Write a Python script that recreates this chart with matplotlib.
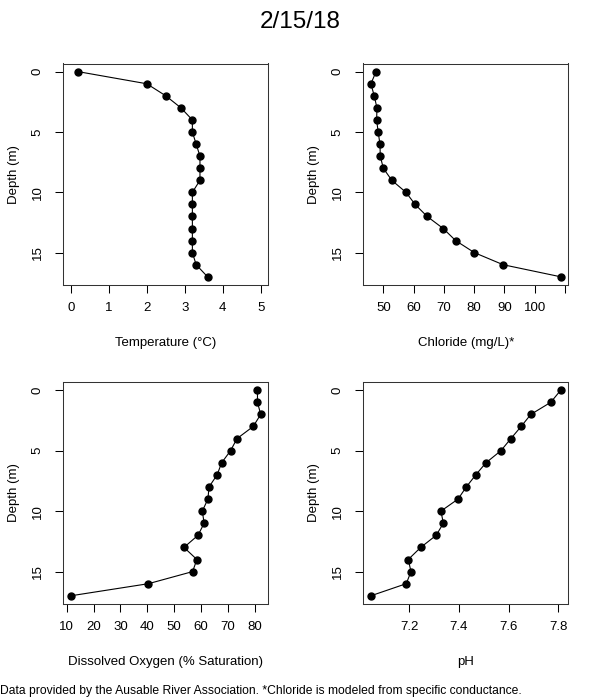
import numpy as np
import matplotlib
matplotlib.use('Agg')
from matplotlib import pyplot as plt

plt.rcParams['font.family'] = ['Liberation Sans', 'DejaVu Sans']

depth = [0, 1, 2, 3, 4, 5, 6, 7, 8, 9, 10, 11, 12, 13, 14, 15, 16, 17]
temp = [0.2, 2.0, 2.5, 2.9, 3.2, 3.2, 3.3, 3.4, 3.4, 3.4, 3.2, 3.2, 3.2, 3.2, 3.2, 3.2, 3.3, 3.6]
chloride = [47.6, 45.9, 47.0, 47.9, 47.8, 48.3, 48.9, 49.0, 50.0, 52.8, 57.5, 60.5,
            64.5, 69.8, 73.9, 80.1, 89.6, 108.6]
do_sat = [80.9, 80.9, 82.1, 79.3, 73.3, 70.9, 67.6, 65.9, 62.9, 62.5, 60.4, 61.1,
          58.8, 53.6, 58.4, 56.8, 40.4, 11.6]
ph = [7.809, 7.769, 7.689, 7.650, 7.609, 7.569, 7.509, 7.468, 7.430, 7.397, 7.328,
      7.338, 7.309, 7.247, 7.197, 7.208, 7.189, 7.047]

temp_ticks = [0, 1, 2, 3, 4, 5]
cl_ticks = [50, 60, 70, 80, 90, 100, 110]
cl_labels = ['50', '60', '70', '80', '90', '100', '']
do_ticks = [10, 20, 30, 40, 50, 60, 70, 80]
ph_ticks = [7.2, 7.4, 7.6, 7.8]
depth_ticks = [0, 5, 10, 15]

fig = plt.figure(figsize=(6, 7), dpi=100)

W, H = 600., 700.
boxes = [(63.3, 63.5, 205, 221.5), (363.3, 63.5, 205, 221.5),
         (63.3, 382, 205, 222), (363.3, 382, 205, 222)]


def r_lim(vals):
    lo, hi = min(vals), max(vals)
    d = (hi - lo) * 0.04
    return lo - d, hi + d


panels = [
    (temp, 'Temperature (°C)', temp_ticks, None, (-0.2, 5.2)),
    (chloride, 'Chloride (mg/L)*', cl_ticks, cl_labels, r_lim(chloride)),
    (do_sat, 'Dissolved Oxygen (% Saturation)', do_ticks, None, r_lim(do_sat)),
    (ph, 'pH', ph_ticks, None, r_lim(ph)),
]

for (x, y, w, h), (vals, xlab, xt, xtl, xl) in zip(boxes, panels):
    ax = fig.add_axes([x / W, 1 - (y + h) / H, w / W, h / H])
    ax.plot(vals, depth, '-o', color='black', lw=0.8, ms=5)
    ax.set_xlim(xl)
    ax.set_ylim(17.68, -0.68)
    ax.set_xticks(xt)
    if xtl is not None:
        ax.set_xticklabels(xtl)
    else:
        ax.set_xticklabels([('%g' % t) if t != int(t) else str(int(t)) for t in xt])
    ax.set_yticks(depth_ticks)
    ax.set_yticklabels([str(t) for t in depth_ticks], rotation=90, va='center')
    ax.tick_params(length=5.5, width=0.75, labelsize=9.5, pad=7)
    ax.tick_params(axis='y', pad=8.5)
    for s in ax.spines.values():
        s.set_linewidth(0.75)
        s.set_color('#333333')
    ax.set_xlabel(xlab, fontsize=9.5)
    ax.xaxis.set_label_coords(0.5, -58 / h)
    ax.xaxis.label.set_va('center')
    ax.set_ylabel('Depth (m)', fontsize=9.5)
    ax.yaxis.set_label_coords(-49 / w, 0.5)
    ax.yaxis.label.set_va('center')

fig.text(0.5, 1 - 22 / H, '2/15/18', ha='center', va='center', fontsize=17.5)
fig.text(0.0, 1 - 691 / H, 'Data provided by the Ausable River Association. '
         '*Chloride is modeled from specific conductance.',
         ha='left', va='center', fontsize=8.7)

plt.savefig('out.png', dpi=100)
